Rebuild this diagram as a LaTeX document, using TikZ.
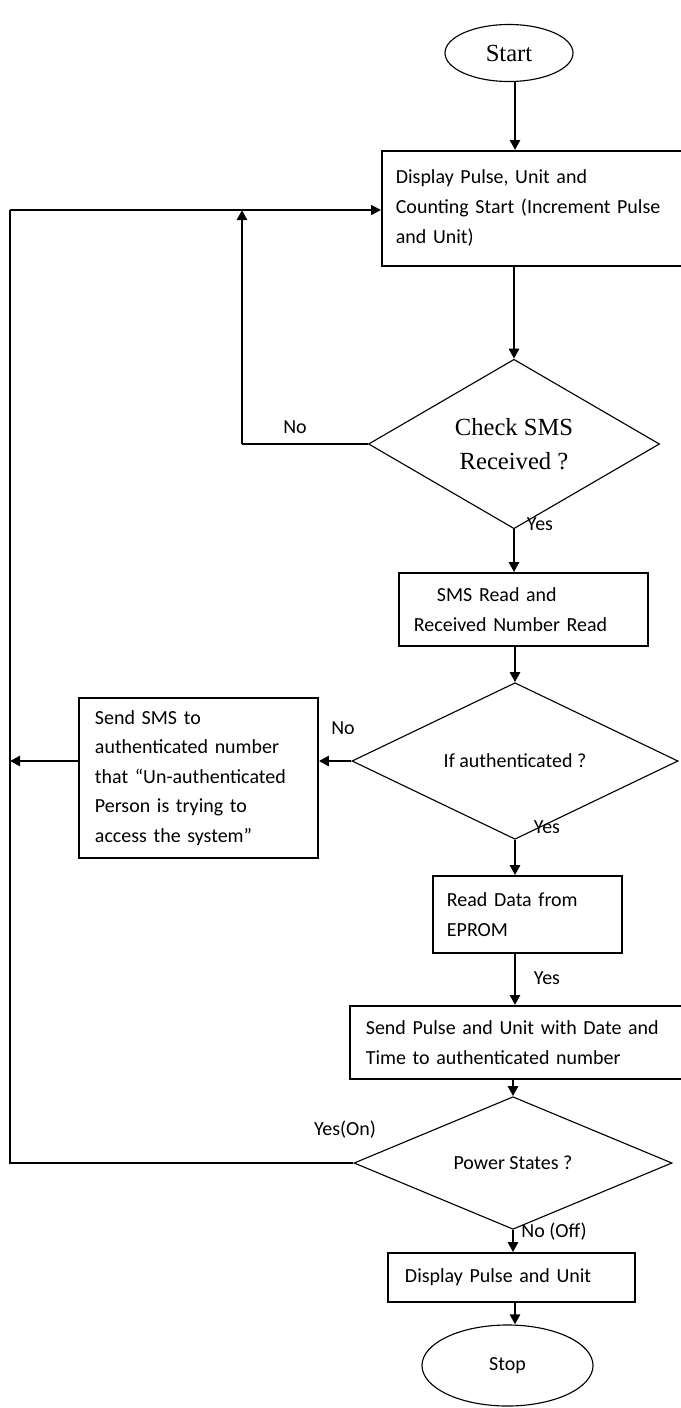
\documentclass[tikz,border=0pt]{standalone}
\usepackage{fontspec}
\setmainfont{Carlito}
\newfontfamily\timesfont{Liberation Serif}
\usetikzlibrary{shapes.geometric,arrows.meta}

\begin{document}
\begin{tikzpicture}[x=0.025cm,y=-0.025cm,
  font=\fontsize{14.2}{21.3}\selectfont,
  box/.style={draw,line width=1.2pt,align=left,inner ysep=0pt},
  decision/.style={draw,diamond,line width=0.8pt,inner sep=0pt,align=center},
  terminal/.style={draw,ellipse,line width=0.8pt,inner sep=0pt},
  serif/.style={font=\timesfont\fontsize{17.5}{24}\selectfont},
  arr/.style={line width=2.1pt,-{Triangle[length=0.25cm,width=0.25cm]}},
  thinarr/.style={line width=1.1pt,-{Triangle[length=0.25cm,width=0.25cm]}},
  rail/.style={line width=1.1pt}]

\useasboundingbox (0,0) rectangle (680,1408);

\coordinate (col) at (515,0);

\node[terminal,serif,minimum width=3.2cm,minimum height=1.425cm] (start) at (509,53) {Start};

\node[box,anchor=north west,minimum height=2.875cm,inner xsep=0.35cm,text width=7.3cm] (box1) at (381,150)
  {Display Pulse, Unit and\\Counting Start (Increment Pulse\\and Unit)};

\node[decision,serif,minimum width=7.275cm,minimum height=3.25cm] (d1) at (514,444) {Check SMS\\Received ?};

\node[box,minimum height=1.825cm,inner xsep=0.375cm,text width=5.475cm] (box2) at (523.5,609.5)
  {\hspace{0.575cm}SMS Read and\\Received Number Read};

\node[decision,minimum width=8.15cm,minimum height=2.7cm] (d2) at (515,761) {If authenticated ?};

\node[box,minimum height=4cm,inner xsep=0.4cm,text width=5.175cm,font=\fontsize{14.2}{21}\selectfont] (sms) at (198.5,778)
  {Send SMS to\\authenticated number\\that “Un-authenticated\\Person is trying to\\access the system”};

\node[box,minimum height=1.925cm,inner xsep=0.35cm,text width=4.025cm] (box3) at (527.5,914.5)
  {Read Data from\\EPROM};

\node[box,anchor=north west,minimum height=1.825cm,inner xsep=0.4cm,text width=7.975cm] (box4) at (349,1005)
  {Send Pulse and Unit with Date and\\Time to authenticated number};

\node[decision,minimum width=7.95cm,minimum height=2.325cm] (d3) at (513,1163) {Power States ?};

\node[box,minimum height=1.225cm,inner xsep=0.425cm,text width=5.325cm] (box5) at (511.5,1277.5)
  {Display Pulse and Unit};

\node[terminal,minimum width=4.275cm,minimum height=2.025cm] (stop) at (507.5,1365.5) {Stop};

% labels
\node (no1) at (295,427) {No};
\node (yes1) at (540,524) {Yes};
\node (no2) at (343,728) {No};
\node (yes2) at (547,827) {Yes};
\node (yes3) at (547,978) {Yes};
\node (yeson) at (345,1130) {Yes(On)};
\node (nooff) at (554,1232) {No (Off)};

% main column
\draw[arr] (start.south -| col) -- (box1.north -| col);
\draw[arr] (box1.south -| d1.north) -- (d1.north);
\draw[arr] (d1.south) -- (d1.south |- box2.north);
\draw[arr] (box2.south -| d2.north) -- (d2.north);
\draw[arr] (d2.south) -- (d2.south |- box3.north);
\draw[arr] (box3.south -| col) -- (box4.north -| col);
\draw[arr] (box4.south -| d3.north) -- (d3.north);
\draw[arr] (d3.south) -- (d3.south |- box5.north);
\draw[arr] (box5.south -| col) -- (stop.north -| col);

% loops back
\coordinate (railtop) at (10,210);
\coordinate (railbot) at (10,1163);
\coordinate (loopc) at (242,444);

\draw[rail] (d1.west) -- (loopc);
\draw[arr] (loopc) -- (loopc |- railtop);
\draw[arr] (d2.west) -- (d2.west -| sms.east);
\draw[arr] (sms.west |- d2.west) -- (railtop |- d2.west);
\draw[rail] (d3.west) -- (railbot) -- (railtop);
\draw[thinarr] (railtop) -- (box1.west |- railtop);

\end{tikzpicture}
\end{document}
